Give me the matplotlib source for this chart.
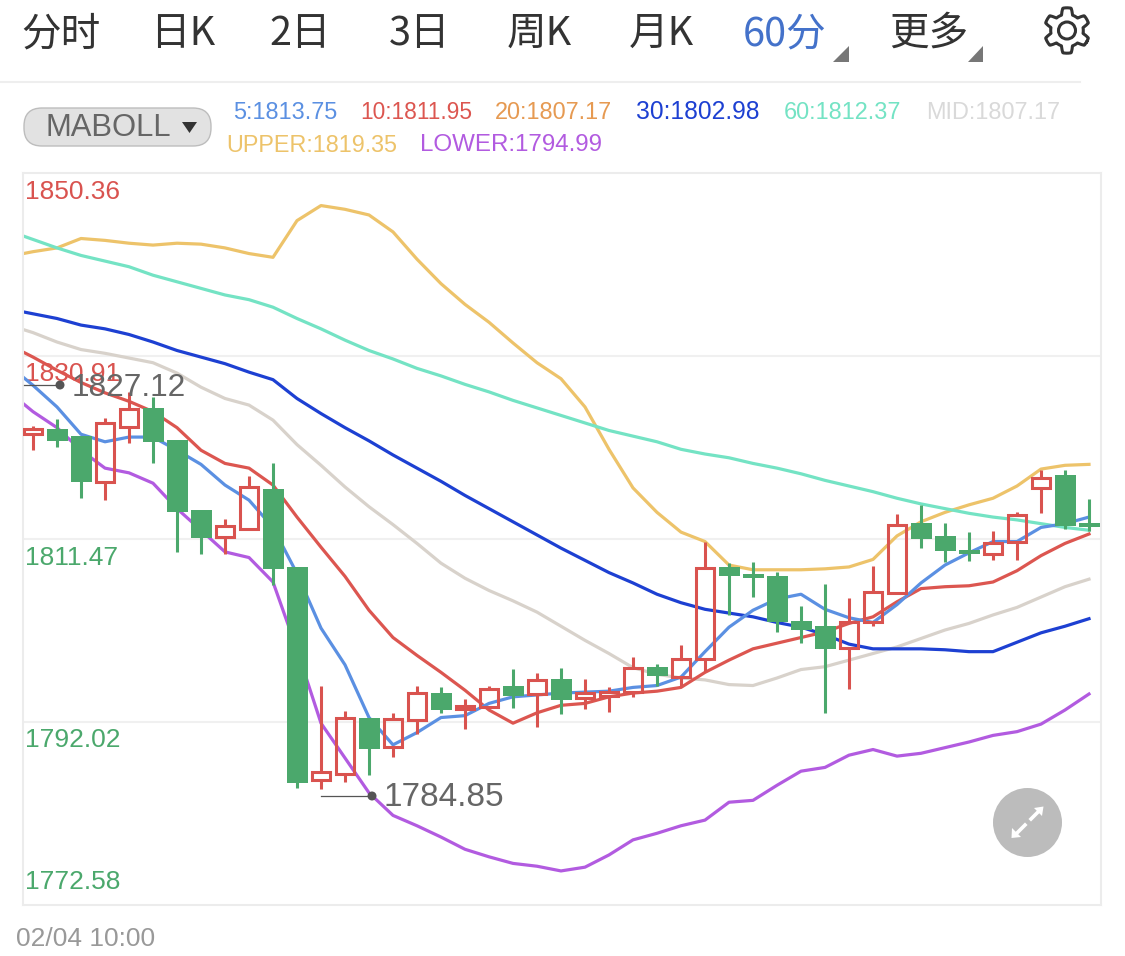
import numpy as np
import matplotlib as mpl
import matplotlib.pyplot as plt
from matplotlib.patches import Circle, FancyBboxPatch, Polygon

mpl.rcParams['font.family'] = ['Liberation Sans', 'Noto Sans CJK SC', 'DejaVu Sans']

# tabs and labels
tabs = ['分时', '日K', '2日', '3日', '周K', '月K', '60分', '更多']
legend_row1 = ['5:1813.75', '10:1811.95', '20:1807.17', '30:1802.98', '60:1812.37', 'MID:1807.17']
legend_row2 = ['UPPER:1819.35', 'LOWER:1794.99']
price_ticks = [1850.36, 1830.91, 1811.47, 1792.02, 1772.58]
start_label = '02/04 10:00'
max_label = '1827.12'
min_label = '1784.85'

# candles
opens = [1822.6, 1823.2, 1822.4, 1817.5, 1823.4, 1825.4, 1822.0, 1814.5, 1811.7, 1812.5, 1816.8,
         1808.5, 1785.9, 1786.5, 1792.5, 1789.4, 1792.2, 1795.1, 1793.4, 1793.6, 1795.8, 1795.0,
         1796.6, 1794.6, 1794.8, 1795.2, 1797.9, 1796.8, 1798.7, 1808.5, 1807.7, 1807.5, 1802.8,
         1802.2, 1799.9, 1802.7, 1805.7, 1813.2, 1811.8, 1810.3, 1809.9, 1811.1, 1816.9, 1818.3,
         1813.2]
closes = [1823.2, 1821.9, 1817.5, 1823.8, 1825.3, 1821.8, 1814.3, 1811.6, 1812.9, 1817.0, 1808.3,
          1785.5, 1786.7, 1792.5, 1789.2, 1792.3, 1795.1, 1793.3, 1793.7, 1795.5, 1794.8, 1796.5,
          1794.4, 1795.1, 1795.2, 1797.8, 1796.9, 1798.7, 1808.4, 1807.5, 1807.3, 1802.6, 1801.8,
          1799.8, 1802.7, 1805.8, 1813.0, 1811.5, 1810.2, 1809.9, 1811.0, 1814.0, 1818.0, 1812.9,
          1812.7]
highs = [1823.5, 1824.2, 1822.4, 1824.3, 1827.1, 1826.6, 1822.0, 1814.5, 1813.6, 1818.2, 1819.5,
         1808.5, 1795.9, 1793.2, 1792.5, 1793.0, 1795.8, 1795.7, 1794.5, 1795.9, 1797.7, 1797.2,
         1797.8, 1796.6, 1795.7, 1798.9, 1798.2, 1800.2, 1811.2, 1808.9, 1809.0, 1808.0, 1804.3,
         1806.7, 1805.2, 1808.6, 1814.1, 1815.1, 1813.2, 1812.2, 1812.3, 1814.3, 1818.8, 1818.8,
         1815.7]
lows = [1820.9, 1821.2, 1815.8, 1815.6, 1821.7, 1819.5, 1810.1, 1809.9, 1809.9, 1812.5, 1806.6,
        1785.0, 1784.9, 1785.7, 1786.4, 1788.3, 1790.8, 1793.0, 1791.3, 1793.6, 1793.5, 1791.5,
        1792.9, 1793.4, 1793.1, 1794.7, 1795.9, 1795.7, 1797.4, 1803.4, 1805.3, 1801.6, 1800.4,
        1793.0, 1795.5, 1802.2, 1805.7, 1810.5, 1809.0, 1809.1, 1809.2, 1809.2, 1814.2, 1812.5,
        1812.3]

# indicator lines, first value lies just left of the plot and gets clipped
ma5 = [1829.9, 1827.8, 1825.5, 1822.6, 1821.8, 1822.3, 1822.3, 1820.9, 1819.4, 1817.2, 1815.6,
       1812.7, 1807.8, 1802.0, 1798.1, 1792.5, 1789.6, 1790.9, 1792.5, 1792.7, 1794.0, 1794.7,
       1794.9, 1795.1, 1795.2, 1795.3, 1795.7, 1795.9, 1796.8, 1799.5, 1802.1, 1803.9, 1805.1,
       1805.6, 1804.0, 1803.1, 1802.6, 1804.5, 1806.8, 1808.7, 1810.0, 1811.2, 1811.2, 1812.7,
       1813.1, 1813.8]
ma10 = [1832.1, 1830.8, 1829.4, 1828.1, 1827.0, 1826.1, 1825.0, 1823.3, 1820.9, 1819.5, 1819.0,
        1817.2, 1813.8, 1810.6, 1807.5, 1803.9, 1801.0, 1799.1, 1797.3, 1795.4, 1793.3, 1791.9,
        1793.0, 1793.8, 1794.0, 1794.7, 1795.1, 1795.3, 1795.7, 1797.3, 1798.6, 1799.8, 1800.4,
        1801.0, 1801.6, 1802.5, 1803.2, 1804.8, 1806.2, 1806.4, 1806.5, 1806.9, 1808.1, 1809.7,
        1811.0, 1812.0]
ma30 = [1835.9, 1835.4, 1834.9, 1834.2, 1833.8, 1833.2, 1832.4, 1831.5, 1830.8, 1830.1, 1829.2,
        1828.4, 1826.4, 1824.8, 1823.3, 1821.9, 1820.4, 1819.0, 1817.6, 1816.1, 1814.7, 1813.3,
        1811.9, 1810.5, 1809.2, 1807.9, 1806.8, 1805.6, 1804.7, 1804.0, 1803.6, 1803.2, 1802.6,
        1802.1, 1801.3, 1800.3, 1799.8, 1799.8, 1799.8, 1799.7, 1799.5, 1799.5, 1800.5, 1801.5,
        1802.2, 1803.0]
ma60 = [1844.2, 1843.3, 1842.4, 1841.6, 1841.0, 1840.4, 1839.5, 1838.8, 1838.1, 1837.4, 1836.9,
        1836.1, 1834.9, 1833.8, 1832.6, 1831.5, 1830.6, 1829.6, 1828.8, 1827.9, 1827.1, 1826.2,
        1825.4, 1824.6, 1823.8, 1823.0, 1822.4, 1821.8, 1821.0, 1820.5, 1820.1, 1819.5, 1819.0,
        1818.4, 1817.7, 1817.1, 1816.5, 1815.8, 1815.2, 1814.7, 1814.2, 1813.8, 1813.5, 1813.1,
        1812.7, 1812.4]
mid = [1834.2, 1833.4, 1832.4, 1831.6, 1831.2, 1830.7, 1830.2, 1829.1, 1827.6, 1826.4, 1825.7,
       1824.1, 1821.5, 1819.3, 1817.0, 1814.9, 1813.0, 1811.0, 1808.9, 1807.3, 1806.0, 1804.9,
       1803.7, 1802.2, 1800.7, 1799.3, 1797.8, 1797.1, 1796.7, 1796.5, 1796.0, 1795.9, 1796.7,
       1797.6, 1797.9, 1798.6, 1799.3, 1800.0, 1800.9, 1801.8, 1802.5, 1803.4, 1804.2, 1805.3,
       1806.4, 1807.2]
upper = [1841.5, 1842.0, 1842.4, 1843.4, 1843.2, 1842.9, 1842.7, 1842.9, 1842.8, 1842.4, 1841.8,
         1841.4, 1845.3, 1846.9, 1846.5, 1845.9, 1844.1, 1841.2, 1838.6, 1836.4, 1834.5, 1832.3,
         1830.2, 1828.5, 1825.5, 1821.0, 1816.9, 1814.3, 1812.2, 1811.2, 1808.7, 1808.2, 1808.2,
         1808.2, 1808.3, 1808.5, 1809.3, 1811.8, 1813.3, 1814.3, 1815.1, 1815.8, 1817.1, 1818.9,
         1819.3, 1819.4]
lower = [1827.1, 1825.0, 1823.3, 1820.9, 1819.0, 1818.5, 1817.4, 1814.7, 1812.4, 1810.1, 1809.5,
         1806.9, 1799.7, 1791.9, 1788.2, 1784.5, 1782.1, 1781.0, 1779.8, 1778.5, 1777.7, 1777.0,
         1776.7, 1776.2, 1776.6, 1777.9, 1779.5, 1780.2, 1781.0, 1781.6, 1783.5, 1783.7, 1785.3,
         1786.8, 1787.2, 1788.5, 1789.1, 1788.4, 1788.7, 1789.3, 1789.9, 1790.6, 1791.0, 1791.8,
         1793.3, 1795.0]

RED = '#d9534f'
GREEN = '#4ba86c'
BLUE = '#4472ca'
W, H = 1125, 956

fig = plt.figure(figsize=(W / 100, H / 100), dpi=100)

# overlay in pixel coordinates for the app chrome around the chart
ui = fig.add_axes([0, 0, 1, 1], zorder=0)
ui.set_xlim(0, W)
ui.set_ylim(H, 0)
ui.axis('off')

# main price panel
ax = fig.add_axes([23 / W, 1 - 905 / H, (1101 - 23) / W, (905 - 173) / H], zorder=1)
ax.set_facecolor('none')
ax.set_xlim((23 - 33) / 24, (1101 - 33) / 24)
ax.set_ylim(price_ticks[-1], price_ticks[0])
ax.set_xticks([])
ax.set_yticks([])
for s in ax.spines.values():
    s.set_color('#ececec')
    s.set_linewidth(1.5)

ax.hlines(price_ticks[1:4], *ax.get_xlim(), color='#f0f0f0', lw=1.5, zorder=1)

xl = np.arange(-1, len(opens))
lines = [(lower, '#b25be0'), (upper, '#edc36a'), (mid, '#d8d2cb'), (ma60, '#74e3c4'),
         (ma30, '#1d40d2'), (ma10, '#dc5650'), (ma5, '#5b90e2')]
for vals, c in lines:
    ax.plot(xl, vals, color=c, lw=2.3, zorder=2, solid_joinstyle='round')

# hollow red candles show the lines through them, so wicks stop at the body
for i in range(len(opens)):
    o, c, h, l = opens[i], closes[i], highs[i], lows[i]
    top, bot = max(o, c), min(o, c)
    if c >= o:
        ax.vlines(i, top, h, color=RED, lw=2.2, zorder=3)
        ax.vlines(i, l, bot, color=RED, lw=2.2, zorder=3)
        ax.bar(i, top - bot, 0.76, bot, facecolor='none', edgecolor=RED, lw=2.2, zorder=3)
    else:
        ax.vlines(i, l, h, color=GREEN, lw=2.2, zorder=3)
        ax.bar(i, top - bot, 0.875, bot, color=GREEN, lw=0, zorder=3)

# price labels sit inside the plot, under the gridline (above it for the last one)
tick_colors = [RED, RED, GREEN, GREEN, GREEN]
tick_offs = [-19, -18, -19, -18, 23]
for p, c, off in zip(price_ticks, tick_colors, tick_offs):
    ax.annotate(f'{p:.2f}', (0, p), xycoords=ax.get_yaxis_transform(), xytext=(1.5, off * 0.72),
                textcoords='offset points', ha='left', va='center', fontsize=19, color=c, zorder=1.5)

# max and min markers
ui2 = fig.add_axes([0, 0, 1, 1], zorder=2)
ui2.set_xlim(0, W)
ui2.set_ylim(H, 0)
ui2.axis('off')
ui2.plot([24, 60], [385, 385], color='#555555', lw=0.9)
ui2.plot([321, 372], [796, 796], color='#555555', lw=0.9)
ui2.add_patch(Circle((60, 385), 4.5, color='#555555', lw=0))
ui2.add_patch(Circle((372, 796), 4.5, color='#555555', lw=0))
ui2.text(72, 388, max_label, fontsize=22.8, color='#666666', va='center', ha='left')
ui2.text(384, 798, min_label, fontsize=24, color='#666666', va='center', ha='left')

# expand button
ui2.add_patch(Circle((1027.5, 822.5), 34.5, color='#bcbcbc', lw=0))
ui2.plot([1031, 1038], [819, 812], color='white', lw=2.6)
ui2.plot([1025, 1017], [825, 833], color='white', lw=2.6)
ui2.add_patch(Polygon([(1043.5, 806.5), (1034, 808), (1042, 816)], color='white', lw=0))
ui2.add_patch(Polygon([(1011.5, 838), (1012, 828), (1021, 837)], color='white', lw=0))

# tab bar
tab_x = [21, 150, 269, 389, 507, 629, 743, 889]
for t, x in zip(tabs, tab_x):
    col = BLUE if t == '60分' else '#333333'
    ui.text(x, 34, t, fontsize=28.5, color=col, ha='left', va='center',
            family=['Noto Sans CJK SC', 'Liberation Sans'])
ui.add_patch(Polygon([(833, 62), (849, 62), (849, 46)], color='#777777', lw=0))
ui.add_patch(Polygon([(968, 62), (983, 62), (983, 46)], color='#777777', lw=0))
ui.plot([0, 1080], [82, 82], color='#eeeeee', lw=1.5)

# settings gear
ang = np.linspace(0, 2 * np.pi, 361)
rad = 19.5 + 3.2 * np.clip(2.2 * np.cos(6 * ang), -1, 1)
rot = ang + np.pi / 6
ui.plot(1067 + rad * np.cos(rot), 30.5 + rad * np.sin(rot), color='#333333', lw=2.2)
ui.add_patch(Circle((1067, 30.5), 8.5, fill=False, edgecolor='#333333', lw=2.2))

# indicator selector and legend
ui.add_patch(FancyBboxPatch((24 + 18, 108 + 18), 187 - 36, 38 - 36, boxstyle='round,pad=18',
                            facecolor='#e2e2e2', edgecolor='#bdbdbd', lw=1))
ui.text(45, 128, 'MABOLL', fontsize=22.3, color='#666666', ha='left', va='center')
ui.add_patch(Polygon([(182, 122), (197, 122), (189.5, 133)], color='#333333', lw=0))

row1_x = [233, 360, 495, 636, 784, 926]
row1_c = ['#5b90e2', '#dc5650', '#e69a52', '#1d40d2', '#74e3c4', '#d9d9d9']
row1_fs = [16.9, 16.4, 16.9, 17.7, 16.9, 16.9]
for t, x, c, fs in zip(legend_row1, row1_x, row1_c, row1_fs):
    ui.text(x, 112, t, fontsize=fs, color=c, ha='left', va='center')
for t, x, c, fs in zip(legend_row2, [226, 420], ['#edc36a', '#b25be0'], [16.8, 17.4]):
    ui.text(x, 145, t, fontsize=fs, color=c, ha='left', va='center')

ui.text(16, 939, start_label, fontsize=19, color='#999999', ha='left', va='center')

fig.savefig('out.png', dpi=100, facecolor='white')
